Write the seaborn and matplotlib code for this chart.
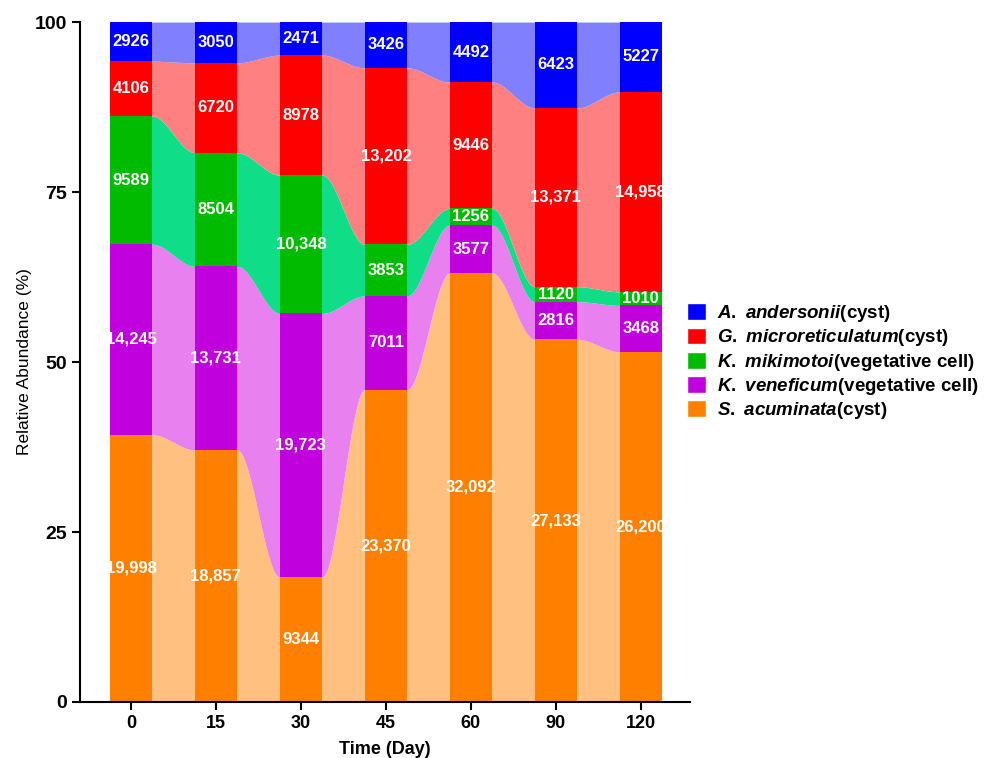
import numpy as np
import seaborn as sns
import matplotlib.pyplot as plt
from matplotlib.patches import Patch

days = ["0", "15", "30", "45", "60", "90", "120"]
andersonii = [2926, 3050, 2471, 3426, 4492, 6423, 5227]
microreticulatum = [4106, 6720, 8978, 13202, 9446, 13371, 14958]
mikimotoi = [9589, 8504, 10348, 3853, 1256, 1120, 1010]
veneficum = [14245, 13731, 19723, 7011, 3577, 2816, 3468]
acuminata = [19998, 18857, 9344, 23370, 32092, 27133, 26200]

# bottom to top
series = [acuminata, veneficum, mikimotoi, microreticulatum, andersonii]
bar_colors = ["#FF8000", "#C000DD", "#00BB00", "#FF0000", "#0000FF"]
flow_colors = ["#FFC080", "#E880F0", "#10DD88", "#FF8080", "#8080FF"]
legend_labels = [
    r"$\it{A.\ andersonii}$(cyst)",
    r"$\it{G.\ microreticulatum}$(cyst)",
    r"$\it{K.\ mikimotoi}$(vegetative cell)",
    r"$\it{K.\ veneficum}$(vegetative cell)",
    r"$\it{S.\ acuminata}$(cyst)",
]

sns.set_theme(style="ticks")
plt.rcParams["font.family"] = ["Liberation Sans", "DejaVu Sans"]
plt.rcParams["mathtext.fontset"] = "custom"
plt.rcParams["mathtext.it"] = "Liberation Sans:italic:bold"
plt.rcParams["mathtext.rm"] = "Liberation Sans:bold"
for key in ["text.color", "axes.labelcolor", "xtick.color", "ytick.color", "axes.edgecolor"]:
    plt.rcParams[key] = "black"

counts = np.array(series, dtype=float)
pct = counts / counts.sum(axis=0) * 100
tops = np.cumsum(pct, axis=0)
bottoms = tops - pct

fig = plt.figure(figsize=(9.97, 7.58), dpi=100)
ax = fig.add_axes([0.0802, 0.0739, 0.612, 0.897])

x = np.arange(len(days))
w = 0.5

# smooth flows between bars (slightly tucked under the bars to hide seams)
for i in range(len(days) - 1):
    xs = np.linspace(i + w / 2, i + 1 - w / 2, 80)
    t = (xs - xs[0]) / (xs[-1] - xs[0])
    s = t * t * (3 - 2 * t)
    xs = np.concatenate([[xs[0] - 0.01], xs, [xs[-1] + 0.01]])
    s = np.concatenate([[0.0], s, [1.0]])
    for k in range(len(series)):
        lo = bottoms[k, i] + (bottoms[k, i + 1] - bottoms[k, i]) * s
        hi = tops[k, i] + (tops[k, i + 1] - tops[k, i]) * s
        ax.fill_between(xs, lo, hi, color=flow_colors[k], linewidth=0)

for k in range(len(series)):
    ax.bar(x, pct[k], bottom=bottoms[k], width=w, color=bar_colors[k], linewidth=0)
    for i in range(len(days)):
        v = series[k][i]
        txt = f"{v:,}" if v >= 10000 else str(v)
        ax.text(x[i], bottoms[k, i] + pct[k, i] / 2, txt, ha="center", va="center",
                color="white", fontsize=12, fontweight="bold")

ax.set_xlim(-0.6, 6.58)
ax.set_ylim(0, 100)
ax.set_yticks([0, 25, 50, 75, 100])
ax.set_xticks(x)
ax.set_xticklabels(days)
ax.tick_params(axis="y", labelsize=14, width=1.5, length=6)
ax.tick_params(axis="x", labelsize=13, width=1.5, length=6)
for lab in ax.get_xticklabels() + ax.get_yticklabels():
    lab.set_fontweight("bold")
for sp in ["left", "bottom"]:
    ax.spines[sp].set_linewidth(1.5)
sns.despine(ax=ax)
ax.set_ylabel("Relative Abundance (%)", fontsize=12.5, labelpad=2)
ax.set_xlabel("Time (Day)", fontsize=13, fontweight="bold", labelpad=6)

handles = [Patch(facecolor=c) for c in bar_colors[::-1]]
fig.legend(handles, legend_labels, loc="upper left", bbox_to_anchor=(0.689, 0.6),
           frameon=False, handlelength=1.0, handleheight=1.0,
           handletextpad=0.6, labelspacing=0.17, borderaxespad=0, borderpad=0,
           prop={"weight": "bold", "size": 13.5})

fig.savefig("out.png", dpi=100)
